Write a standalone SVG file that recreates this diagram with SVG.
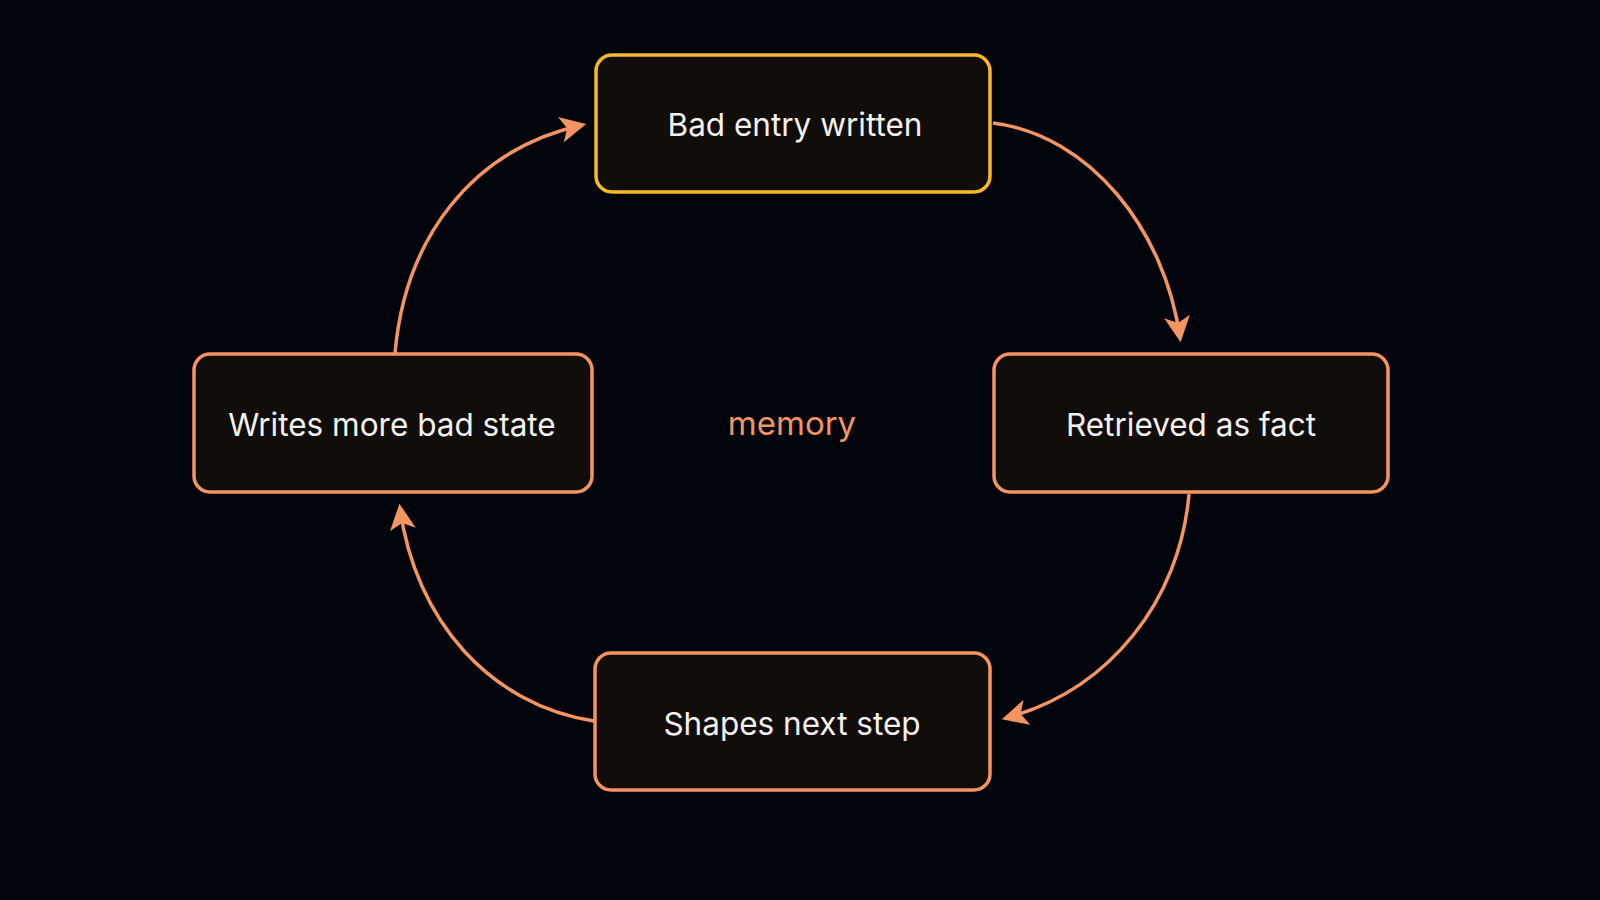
<svg xmlns="http://www.w3.org/2000/svg" width="1600" height="900" viewBox="0 0 1600 900">
<defs>
<style>
.box{fill:#110d0b;stroke:#f39462;stroke-width:3.5}
.hl{stroke:#f7b927}
.lbl{font-family:Inter,"Liberation Sans",sans-serif;font-size:31.5px;fill:#f4f1ee;text-anchor:middle;dominant-baseline:central}
.edge{fill:none;stroke:#f39462;stroke-width:3.5}
</style>
<marker id="a2" viewBox="0 0 12 12" refX="10" refY="6" markerWidth="26" markerHeight="26" markerUnits="userSpaceOnUse" orient="auto">
<path d="M0,0 L12,6 L0,12 L3,6 Z" fill="#f39462"/>
</marker>
</defs>
<rect width="1600" height="900" fill="#02040c"/>
<g id="connectors">
<path class="edge" d="M993,123 C1090,135 1165,230 1180,338" marker-end="url(#a2)"/>
<path class="edge" d="M1189,494 C1180,600 1110,690 1006,718" marker-end="url(#a2)"/>
<path class="edge" d="M594,721 C490,705 415,620 400,508" marker-end="url(#a2)"/>
<path class="edge" d="M395,353 C405,240 470,150 582,125" marker-end="url(#a2)"/>
</g>
<g id="n1"><rect class="box hl" x="596" y="55" width="394" height="137" rx="16"/><text class="lbl" x="795" y="124">Bad entry written</text></g>
<g id="n2"><rect class="box" x="994" y="354" width="394" height="138" rx="16"/><text class="lbl" x="1191" y="424">Retrieved as fact</text></g>
<g id="n3"><rect class="box" x="595" y="653" width="395" height="137" rx="16"/><text class="lbl" x="792" y="723">Shapes next step</text></g>
<g id="n4"><rect class="box" x="194" y="354" width="398" height="138" rx="16"/><text class="lbl" x="392" y="424">Writes more bad state</text></g>
<g id="center"><text class="lbl" x="792" y="423" style="fill:#f39462;font-size:33px">memory</text></g>
</svg>
